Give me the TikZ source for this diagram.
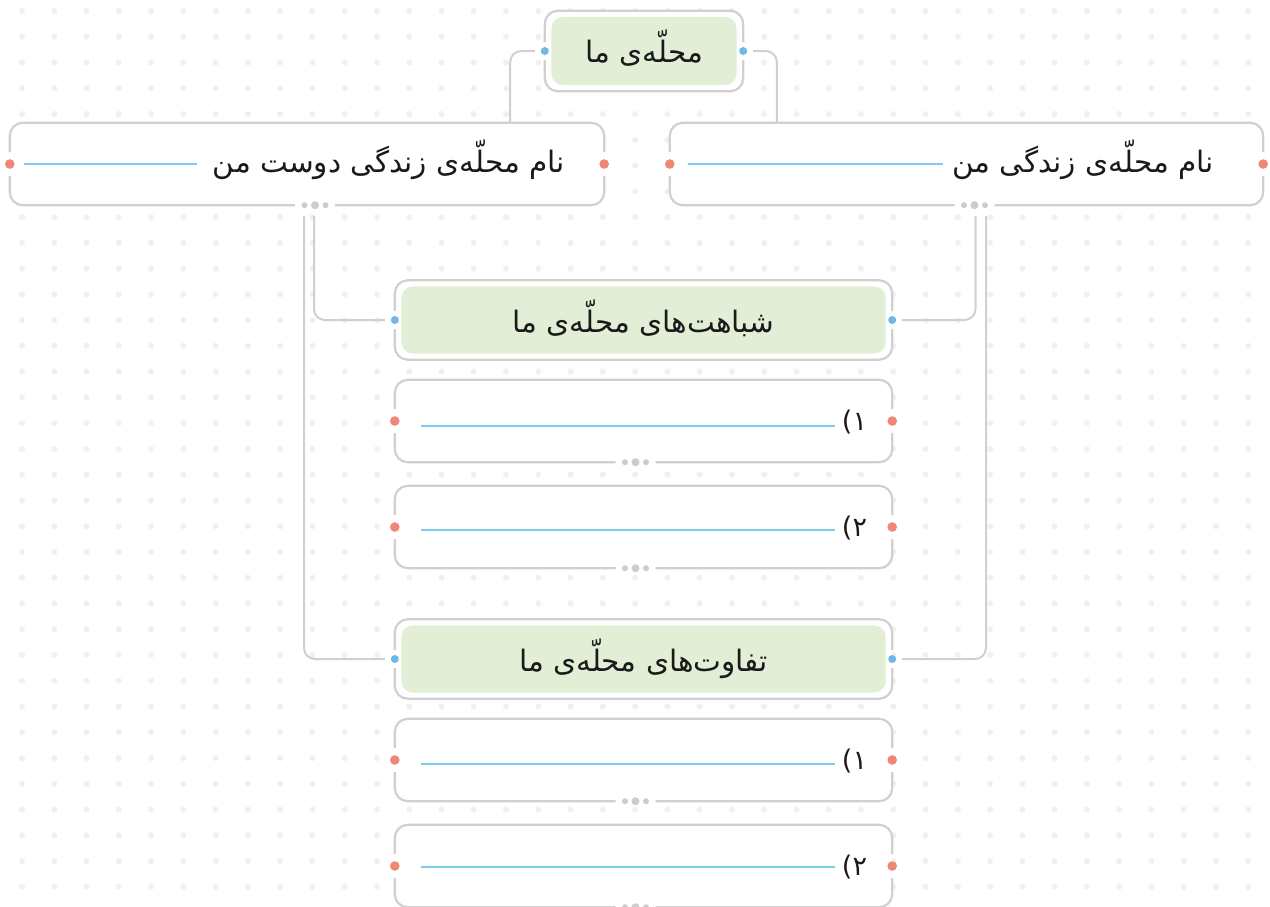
\documentclass[tikz,border=0pt]{standalone}
\usepackage{fontspec}
\newfontfamily\fa[Script=Arabic]{DejaVu Sans}
\TeXXeTstate=1
\definecolor{bordc}{RGB}{208,208,208}
\definecolor{gridc}{RGB}{240,240,240}
\definecolor{greenc}{RGB}{226,239,214}
\definecolor{bluedot}{RGB}{108,184,232}
\definecolor{reddot}{RGB}{240,134,118}
\definecolor{bluel}{RGB}{125,203,243}
\definecolor{txt}{RGB}{26,26,26}
\definecolor{moredots}{RGB}{204,204,204}
\tikzset{
  boxn/.style={draw=none, fill=white, inner sep=0pt, rounded corners=13pt},
  bord/.style={draw=bordc, line width=2.2pt, rounded corners=13pt},
  conn/.style={draw=bordc, line width=2pt, rounded corners=11pt},
  lbl/.style={font=\fa\fontsize{29.5}{34}\selectfont, text=txt, inner sep=0pt},
  numlbl/.style={font=\fa\fontsize{27}{32}\selectfont, text=txt, inner sep=0pt},
  fillline/.style={draw=bluel, line width=1.3pt},
}
\newcommand\gapbox[2]{%
  \draw[bord] ([yshift=12pt]#1.west) |- (#1.north) -| ([yshift=12pt]#1.east);
  \draw[bord] ([yshift=-12pt]#1.east) |- ([xshift=#2+20pt]#1.south);
  \draw[bord] ([xshift=#2-20pt]#1.south) -| ([yshift=-12pt]#1.west);
  \fill[moredots] ([xshift=#2-10.5pt]#1.south) circle (3pt)
                  ([xshift=#2]#1.south) circle (4pt)
                  ([xshift=#2+10.5pt]#1.south) circle (3pt);
  \fill[reddot] (#1.west) circle (4.8pt) (#1.east) circle (4.8pt);
}
\newcommand\greenbox[1]{%
  \fill[greenc, rounded corners=12pt] ([shift={(6.5pt,6pt)}]#1.south west) rectangle ([shift={(-6.5pt,-6pt)}]#1.north east);
  \draw[bord] ([yshift=9pt]#1.west) |- (#1.north) -| ([yshift=9pt]#1.east);
  \draw[bord] ([yshift=-9pt]#1.east) |- (#1.south) -| ([yshift=-9pt]#1.west);
  \fill[bluedot] (#1.west) circle (4pt) (#1.east) circle (4pt);
}
\begin{document}
\begin{tikzpicture}[x=1pt,y=-1pt]
\useasboundingbox[fill=white] (0,0) rectangle (1270,906);
% dot grid
\foreach \i in {0,...,38}{
  \foreach \j in {0,...,34}{
    \fill[gridc] (22+32.27*\i, 11+25.76*\j) circle (3pt);
  }
}
% boxes
\node[boxn, minimum width=198pt, minimum height=80pt] (T) at (644,51) {};
\node[boxn, minimum width=594pt, minimum height=82pt] (L) at (307,164) {};
\node[boxn, minimum width=593pt, minimum height=82pt] (R) at (966.5,164) {};
\node[boxn, minimum width=497pt, minimum height=79pt] (S) at (643.5,320) {};
\node[boxn, minimum width=497pt, minimum height=82pt] (I1) at (643.5,421) {};
\node[boxn, minimum width=497pt, minimum height=82pt] (I2) at (643.5,527) {};
\node[boxn, minimum width=497pt, minimum height=79pt] (D) at (643.5,659) {};
\node[boxn, minimum width=497pt, minimum height=82pt] (I3) at (643.5,760) {};
\node[boxn, minimum width=497pt, minimum height=82pt] (I4) at (643.5,866) {};
% outlines
\greenbox{T}
\greenbox{S}
\greenbox{D}
\gapbox{L}{8pt}
\gapbox{R}{8pt}
\gapbox{I1}{-8pt}
\gapbox{I2}{-8pt}
\gapbox{I3}{-8pt}
\gapbox{I4}{-8pt}
% connectors
\draw[conn] ([xshift=-10pt]T.west) -| ([xshift=-94pt]L.north east);
\draw[conn] ([xshift=10pt]T.east) -| ([xshift=107pt]R.north west);
\draw[conn] ([shift={(7pt,-11pt)}]L.south) |- ([xshift=-10pt]S.west);
\draw[conn] ([shift={(-3pt,-11pt)}]L.south) |- ([xshift=-10pt]D.west);
\draw[conn] ([shift={(9pt,-11pt)}]R.south) |- ([xshift=10pt]S.east);
\draw[conn] ([shift={(19.5pt,-11pt)}]R.south) |- ([xshift=10pt]D.east);
% texts
\node[lbl, anchor=base] (Tt) at ([yshift=-11pt]T.center) {\beginR محلّه^^^^200cی ما\endR};
\node[lbl, anchor=base east] (Lt) at ([shift={(-39pt,-8pt)}]L.east) {\beginR نام محلّه^^^^200cی زندگی دوست من\endR};
\node[lbl, anchor=base east] (Rt) at ([shift={(-49pt,-8pt)}]R.east) {\beginR نام محلّه^^^^200cی زندگی من\endR};
\node[lbl, anchor=base] (St) at ([yshift=-12pt]S.center) {\beginR شباهت^^^^200cهای محلّه^^^^200cی ما\endR};
\node[lbl, anchor=base] (Dt) at ([yshift=-12pt]D.center) {\beginR تفاوت^^^^200cهای محلّه^^^^200cی ما\endR};
\node[numlbl, anchor=base east] (I1t) at ([shift={(-25pt,-9pt)}]I1.east) {۱)};
\node[numlbl, anchor=base east] (I2t) at ([shift={(-25pt,-9pt)}]I2.east) {۲)};
\node[numlbl, anchor=base east] (I3t) at ([shift={(-25pt,-9pt)}]I3.east) {۱)};
\node[numlbl, anchor=base east] (I4t) at ([shift={(-25pt,-9pt)}]I4.east) {۲)};
% answer lines
\draw[fillline] ([xshift=14pt]L.west) -- ([xshift=-407pt]L.east);
\draw[fillline] ([xshift=18pt]R.west) -- ([xshift=-320pt]R.east);
\draw[fillline] ([shift={(26pt,-5pt)}]I1.west) -- ([shift={(-57pt,-5pt)}]I1.east);
\draw[fillline] ([shift={(26pt,-3pt)}]I2.west) -- ([shift={(-57pt,-3pt)}]I2.east);
\draw[fillline] ([shift={(26pt,-4pt)}]I3.west) -- ([shift={(-57pt,-4pt)}]I3.east);
\draw[fillline] ([shift={(26pt,-1pt)}]I4.west) -- ([shift={(-57pt,-1pt)}]I4.east);
\end{tikzpicture}
\end{document}
